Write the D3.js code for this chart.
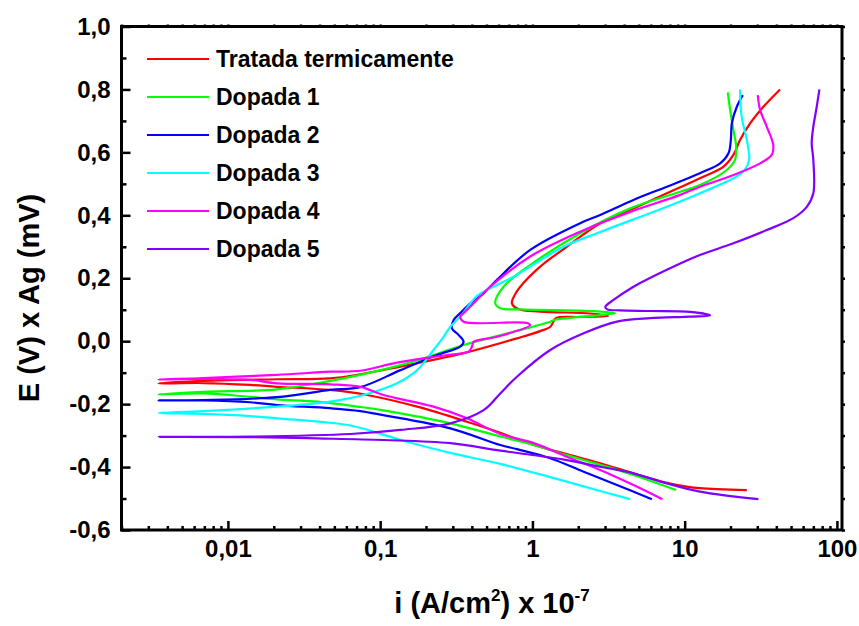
<!DOCTYPE html>
<html>
<head>
<meta charset="utf-8">
<script src="https://cdn.jsdelivr.net/npm/d3@7"></script>
<style>
  body { margin: 0; background: #fff; }
  svg text { font-family: "Liberation Sans", Arial, sans-serif; font-weight: bold; fill: #000; }
</style>
</head>
<body>
<div id="chart"></div>
<script>
// series names and colours (Origin palette)
const seriesNames = ["Tratada termicamente", "Dopada 1", "Dopada 2", "Dopada 3", "Dopada 4", "Dopada 5"];
const seriesColors = ["#ff0000", "#00ff00", "#0000ff", "#00ffff", "#ff00ff", "#8000ff"];

// [i (A/cm2 x 1e-7), E (V)] from cathodic end -> Ecorr -> anodic end
const tratada = [
  [25.6, -0.473], [12.6, -0.467], [10.3, -0.462], [7.64, -0.450], [4.61, -0.420], [2.79, -0.388],
  [1.68, -0.359], [1.02, -0.330], [0.615, -0.291], [0.372, -0.256], [0.175, -0.208], [0.082, -0.171],
  [0.047, -0.155], [0.021, -0.145], [0.014, -0.139], [0.0069, -0.133], [0.0035, -0.134],
  [0.0069, -0.126], [0.021, -0.121], [0.047, -0.118], [0.074, -0.105], [0.129, -0.083], [0.175, -0.070],
  [0.353, -0.038], [0.791, 0.009], [1.125, 0.032], [1.31, 0.046], [1.37, 0.061], [1.43, 0.074],
  [2.06, 0.077], [3.15, 0.080], [2.40, 0.088], [1.125, 0.094], [0.807, 0.102], [0.733, 0.121],
  [0.760, 0.144], [0.832, 0.173], [1.125, 0.237], [1.68, 0.300], [2.79, 0.375], [4.61, 0.422],
  [7.64, 0.470], [12.6, 0.518], [18.0, 0.555], [20.9, 0.592], [23.1, 0.639], [26.9, 0.692],
  [32.9, 0.745], [42.3, 0.800]
];
const dopada1 = [
  [8.79, -0.473], [4.61, -0.425], [2.79, -0.393], [1.68, -0.362], [1.02, -0.330], [0.615, -0.303],
  [0.289, -0.261], [0.105, -0.220], [0.074, -0.209], [0.0385, -0.192], [0.021, -0.185], [0.014, -0.177],
  [0.0069, -0.166], [0.0035, -0.169],
  [0.0069, -0.161], [0.021, -0.153], [0.047, -0.126], [0.074, -0.107], [0.165, -0.065], [0.353, -0.012],
  [0.752, 0.030], [1.31, 0.062], [1.43, 0.069], [2.06, 0.077], [3.50, 0.089], [2.40, 0.096],
  [0.832, 0.101], [0.615, 0.105], [0.570, 0.121], [0.646, 0.173], [0.967, 0.242], [2.06, 0.343],
  [4.39, 0.422], [9.34, 0.475], [12.6, 0.496], [18.9, 0.544], [21.4, 0.576], [21.8, 0.618],
  [20.9, 0.671], [19.9, 0.735], [19.2, 0.791]
];
const dopada2 = [
  [6.09, -0.502], [3.59, -0.457], [2.17, -0.415], [1.31, -0.372], [0.791, -0.343], [0.615, -0.330],
  [0.289, -0.277], [0.105, -0.235], [0.074, -0.222], [0.047, -0.213], [0.021, -0.203], [0.014, -0.194],
  [0.0069, -0.188], [0.0035, -0.188],
  [0.0069, -0.187], [0.021, -0.178], [0.047, -0.155], [0.074, -0.146], [0.136, -0.092], [0.236, -0.044],
  [0.336, -0.017], [0.353, -0.002], [0.327, 0.020], [0.296, 0.041], [0.304, 0.067], [0.344, 0.094],
  [0.391, 0.120], [0.478, 0.152], [0.585, 0.195], [0.967, 0.290], [2.06, 0.375], [2.79, 0.401],
  [4.61, 0.449], [7.64, 0.491], [12.6, 0.534], [17.1, 0.565], [19.4, 0.597], [20.1, 0.639],
  [20.4, 0.692], [22.0, 0.745], [24.1, 0.782]
];
const dopada3 = [
  [4.39, -0.502], [2.79, -0.476], [1.31, -0.432], [0.615, -0.390], [0.289, -0.355], [0.136, -0.314],
  [0.0637, -0.268], [0.021, -0.245], [0.014, -0.238], [0.0069, -0.231], [0.0035, -0.228],
  [0.0069, -0.222], [0.021, -0.208], [0.047, -0.192], [0.0778, -0.171], [0.129, -0.134], [0.175, -0.092],
  [0.224, -0.028], [0.261, 0.014], [0.289, 0.046], [0.336, 0.078], [0.391, 0.120], [0.441, 0.147],
  [0.752, 0.205], [1.60, 0.300], [2.79, 0.347], [4.61, 0.387], [7.64, 0.427], [12.6, 0.470],
  [20.9, 0.518], [24.3, 0.539], [26.5, 0.576], [25.6, 0.639], [23.7, 0.713], [23.1, 0.800]
];
const dopada4 = [
  [7.14, -0.502], [4.61, -0.457], [2.79, -0.409], [1.68, -0.367], [1.02, -0.324], [0.615, -0.295],
  [0.372, -0.245], [0.224, -0.208], [0.105, -0.171], [0.074, -0.145], [0.047, -0.137], [0.021, -0.134],
  [0.014, -0.123], [0.0069, -0.120], [0.0035, -0.122],
  [0.0069, -0.117], [0.021, -0.107], [0.047, -0.097], [0.074, -0.094], [0.129, -0.068], [0.275, -0.044],
  [0.381, -0.033], [0.401, -0.017], [0.411, -0.002], [0.585, 0.014], [0.967, 0.051], [0.925, 0.058],
  [0.353, 0.062], [0.336, 0.078], [0.353, 0.089], [0.391, 0.110], [0.528, 0.173], [0.967, 0.269],
  [2.06, 0.348], [4.39, 0.411], [9.34, 0.465], [12.6, 0.491], [20.9, 0.528], [31.3, 0.565],
  [37.3, 0.592], [38.2, 0.623], [34.6, 0.682], [31.3, 0.735], [30.2, 0.782]
];
const dopada5 = [
  [30.5, -0.502], [12.6, -0.478], [7.64, -0.452], [4.61, -0.420], [2.79, -0.399], [1.68, -0.378],
  [1.02, -0.362], [0.615, -0.348], [0.289, -0.324], [0.105, -0.314], [0.0385, -0.309], [0.014, -0.305],
  [0.0035, -0.304],
  [0.014, -0.303], [0.0637, -0.295], [0.136, -0.282], [0.289, -0.261], [0.478, -0.219], [0.615, -0.166],
  [0.791, -0.113], [1.31, -0.028], [2.17, 0.025], [3.59, 0.062], [5.93, 0.073], [10.9, 0.078],
  [14.7, 0.082], [10.9, 0.093], [5.93, 0.096], [3.77, 0.098], [3.10, 0.101], [3.01, 0.109],
  [3.41, 0.131], [4.61, 0.173], [7.64, 0.227], [12.6, 0.274], [20.9, 0.311], [34.6, 0.353],
  [51.7, 0.391], [63.4, 0.427], [70.0, 0.470], [70.0, 0.576], [68.3, 0.629], [70.0, 0.682],
  [73.7, 0.745], [76.7, 0.800]
];
const allSeries = [tratada, dopada1, dopada2, dopada3, dopada4, dopada5];

// axis ticks
const xMajor = [0.01, 0.1, 1, 10, 100];
const yMajor = [-0.6, -0.4, -0.2, 0.0, 0.2, 0.4, 0.6, 0.8, 1.0];
const yMinor = [-0.5, -0.3, -0.1, 0.1, 0.3, 0.5, 0.7, 0.9];

const W = 859, H = 626;
const box = {left: 121.5, right: 842, top: 26.5, bottom: 530};

const x = d3.scaleLog().domain([0.002, 108]).range([box.left, box.right]);
const y = d3.scaleLinear().domain([-0.6, 1.0]).range([box.bottom, box.top]);

// minor ticks of the log axis: 2..9 of each decade
const xMinor = [];
[0.001, 0.01, 0.1, 1, 10].forEach(d => {
  for (let k = 2; k <= 9; k++) {
    const v = d * k;
    if (v >= 0.002 && v <= 108) xMinor.push(v);
  }
});

const svg = d3.select("#chart").append("svg")
  .attr("width", W)
  .attr("height", H);

const comma = s => String(s).replace(".", ",");

// curves
const line = d3.line()
  .x(d => x(d[0]))
  .y(d => y(d[1]))
  .curve(d3.curveCatmullRom.alpha(0.5));

svg.selectAll("path.curve")
  .data(allSeries)
  .enter()
  .append("path")
  .attr("class", "curve")
  .attr("d", line)
  .attr("fill", "none")
  .attr("stroke", (d, i) => seriesColors[i])
  .attr("stroke-width", 2.2)
  .attr("stroke-linejoin", "round");

// axes (ticks point inward)
const gLeft = svg.append("g").attr("transform", `translate(${box.left},0)`)
  .call(d3.axisLeft(y).tickValues(yMajor).tickSize(-9).tickPadding(11)
    .tickFormat(d => d.toFixed(1).replace(".", ",")));
gLeft.append("g").call(d3.axisLeft(y).tickValues(yMinor).tickSize(-5).tickFormat(""));

const gBottom = svg.append("g").attr("transform", `translate(0,${box.bottom})`)
  .call(d3.axisBottom(x).tickValues(xMajor).tickSize(-9).tickPadding(10).tickFormat(comma));
gBottom.append("g").call(d3.axisBottom(x).tickValues(xMinor).tickSize(-4).tickFormat(""));

svg.append("g").attr("transform", `translate(0,${box.top})`)
  .call(d3.axisTop(x).tickValues(xMajor.concat(xMinor)).tickSize(2).tickFormat(""));
svg.append("g").attr("transform", `translate(${box.right},0)`)
  .call(d3.axisRight(y).tickValues(yMajor.concat(yMinor)).tickSize(3).tickFormat(""));

svg.selectAll(".domain").remove();
svg.selectAll(".tick line").attr("stroke", "#000").attr("stroke-width", 2.5);
svg.selectAll(".tick text").attr("font-size", "24px").attr("fill", "#000");

// frame
svg.append("rect")
  .attr("x", box.left)
  .attr("y", box.top)
  .attr("width", box.right - box.left)
  .attr("height", box.bottom - box.top)
  .attr("fill", "none")
  .attr("stroke", "#000")
  .attr("stroke-width", 3);

// axis titles
svg.append("text")
  .attr("transform", "translate(39,298) rotate(-90)")
  .attr("text-anchor", "middle")
  .attr("font-size", "29px")
  .text("E (V) x Ag (mV)");

const xt = svg.append("text")
  .attr("x", 492)
  .attr("y", 613)
  .attr("text-anchor", "middle")
  .attr("font-size", "29px");
xt.append("tspan").text("i (A/cm");
xt.append("tspan").attr("font-size", "17px").attr("dy", -12).text("2");
xt.append("tspan").attr("dy", 12).text(") x 10");
xt.append("tspan").attr("font-size", "17px").attr("dy", -12).text("-7");

// legend
const legend = svg.append("g");
seriesNames.forEach((name, i) => {
  const ly = 59 + i * 38;
  legend.append("line")
    .attr("x1", 147).attr("x2", 209)
    .attr("y1", ly).attr("y2", ly)
    .attr("stroke", seriesColors[i])
    .attr("stroke-width", 2.2);
  legend.append("text")
    .attr("x", 216)
    .attr("y", ly + 8)
    .attr("font-size", "23px")
    .text(name);
});
</script>
</body>
</html>
